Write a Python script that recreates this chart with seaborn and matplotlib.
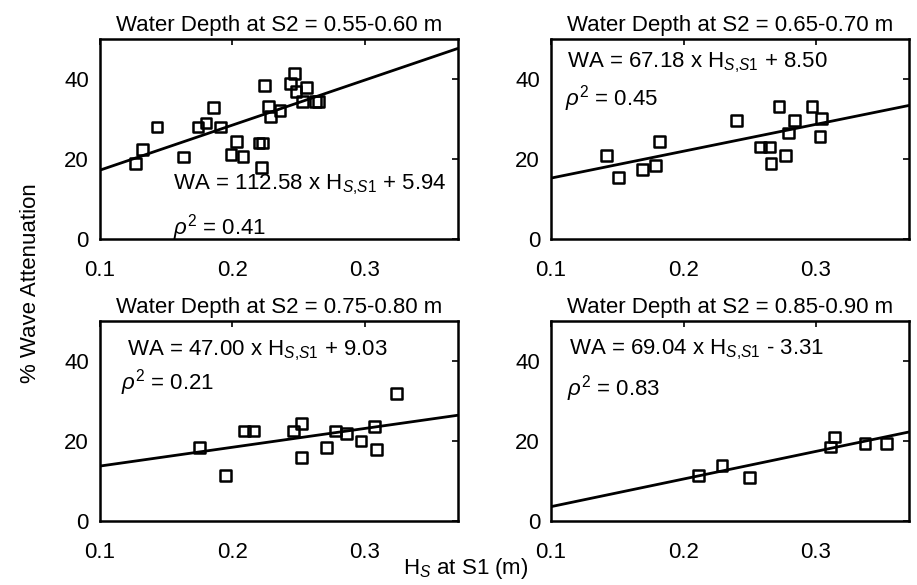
import matplotlib
matplotlib.use("Agg")
import matplotlib.pyplot as plt
import seaborn as sns
import numpy as np
import pandas as pd

# Significant wave height at S1 (m) and % wave attenuation, per depth class
depth_labels = ["0.55-0.60", "0.65-0.70", "0.75-0.80", "0.85-0.90"]

hs_055 = [0.127, 0.132, 0.143, 0.163, 0.174, 0.180, 0.186, 0.191, 0.199, 0.203,
          0.208, 0.220, 0.223, 0.222, 0.224, 0.227, 0.229, 0.236, 0.244, 0.247,
          0.248, 0.256, 0.253, 0.263, 0.265]
wa_055 = [18.8, 22.3, 28.0, 20.5, 28.0, 29.0, 32.8, 28.0, 21.1, 24.4,
          20.7, 24.0, 24.0, 17.8, 38.3, 33.2, 30.7, 32.2, 38.8, 41.3,
          36.9, 37.8, 34.4, 34.4, 34.4]

hs_065 = [0.142, 0.151, 0.169, 0.179, 0.182, 0.240, 0.258, 0.265, 0.266, 0.272,
          0.277, 0.279, 0.284, 0.297, 0.304, 0.303]
wa_065 = [20.9, 15.3, 17.3, 18.4, 24.4, 29.6, 23.0, 23.0, 18.8, 33.2,
          20.9, 26.5, 29.7, 33.2, 30.1, 25.7]

hs_075 = [0.175, 0.195, 0.209, 0.216, 0.246, 0.252, 0.252, 0.271, 0.278, 0.286,
          0.297, 0.307, 0.309, 0.324]
wa_075 = [18.4, 11.3, 22.5, 22.5, 22.5, 24.3, 15.8, 18.4, 22.5, 21.9,
          20.0, 23.6, 17.9, 31.8]

hs_085 = [0.211, 0.229, 0.250, 0.311, 0.314, 0.337, 0.353]
wa_085 = [11.3, 13.8, 10.8, 18.5, 21.0, 19.3, 19.3]

# Linear fits: slope, intercept, rho^2
slopes = [112.58, 67.18, 47.00, 69.04]
intercepts = [5.94, 8.50, 9.03, -3.31]
rho2 = [0.41, 0.45, 0.21, 0.83]

x_ticks = [0.1, 0.2, 0.3]
x_tick_labels = ["0.1", "0.2", "0.3"]
y_ticks = [0, 20, 40]
y_tick_labels = ["0", "20", "40"]

sns.set_theme(style="white")
plt.rcParams["font.family"] = ["Liberation Sans", "DejaVu Sans"]
plt.rcParams["text.color"] = "black"
plt.rcParams["mathtext.fontset"] = "custom"
plt.rcParams["mathtext.rm"] = "Liberation Sans"
plt.rcParams["mathtext.it"] = "Liberation Sans:italic"
plt.rcParams["mathtext.bf"] = "Liberation Sans:bold"

FS = 16
fig = plt.figure(figsize=(9.17, 5.85), dpi=100)

positions = [
    (0.109, 0.5915, 0.390, 0.342),
    (0.601, 0.5915, 0.390, 0.342),
    (0.109, 0.1094, 0.390, 0.342),
    (0.601, 0.1094, 0.390, 0.342),
]
series = [(hs_055, wa_055), (hs_065, wa_065), (hs_075, wa_075), (hs_085, wa_085)]
eq_pos = [(0.205, 0.27), (0.045, 0.88), (0.075, 0.85), (0.05, 0.855)]
rho_pos = [(0.205, 0.055), (0.04, 0.70), (0.06, 0.69), (0.045, 0.66)]

for i, (pos, (hs, wa)) in enumerate(zip(positions, series)):
    ax = fig.add_axes(pos)
    df = pd.DataFrame({"hs": hs, "wa": wa})
    sns.scatterplot(data=df, x="hs", y="wa", ax=ax, marker="s", s=60,
                    facecolor="none", edgecolor="black", linewidth=1.8, zorder=3)
    xl = np.array([0.1, 0.37])
    fit = pd.DataFrame({"x": xl, "y": slopes[i] * xl + intercepts[i]})
    sns.lineplot(data=fit, x="x", y="y", ax=ax, color="black", linewidth=2.0, zorder=2)

    ax.set_xlim(0.1, 0.37)
    ax.set_ylim(0, 50)
    ax.set_xticks(x_ticks)
    ax.set_xticklabels(x_tick_labels)
    ax.set_yticks(y_ticks)
    ax.set_yticklabels(y_tick_labels)
    ax.set_xlabel("")
    ax.set_ylabel("")
    ax.tick_params(direction="in", length=4, width=1.2, labelsize=FS, colors="black",
                   top=True, right=True)
    ax.tick_params(axis="x", pad=15)
    ax.tick_params(axis="y", pad=8)
    for sp in ax.spines.values():
        sp.set_linewidth(1.8)
        sp.set_color("black")
    ax.set_title(f"Water Depth at S2 = {depth_labels[i]} m", fontsize=FS, pad=6,
                 color="black")

    sign = "+" if intercepts[i] >= 0 else "-"
    eq = f"WA = {slopes[i]:.2f} x H$_{{S{{,}}S1}}$ {sign} {abs(intercepts[i]):.2f}"
    ax.text(*eq_pos[i], eq, transform=ax.transAxes, fontsize=FS, va="center", ha="left")
    ax.text(*rho_pos[i], rf"$\rho^2$ = {rho2[i]:.2f}", transform=ax.transAxes,
            fontsize=FS, va="center", ha="left")

fig.text(0.033, 0.516, "% Wave Attenuation", rotation=90, fontsize=FS,
         ha="center", va="center")
fig.text(0.508, 0.029, "H$_S$ at S1 (m)", fontsize=FS, ha="center", va="center")

fig.savefig("out.png", dpi=100)
